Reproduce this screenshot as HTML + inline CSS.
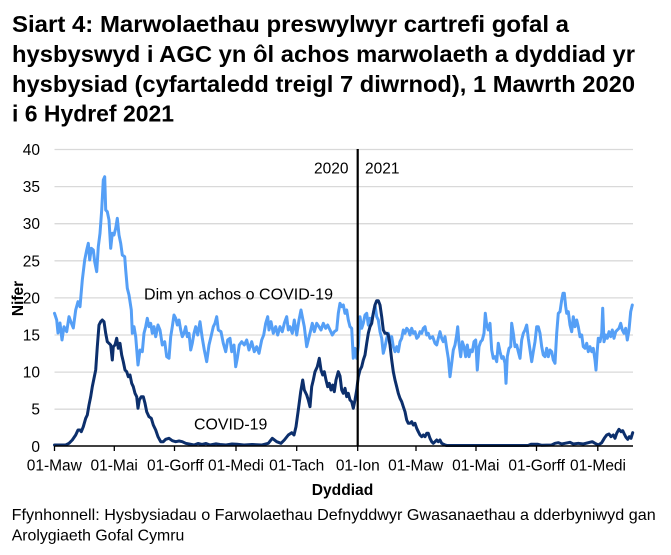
<!DOCTYPE html>
<html>
<head>
<meta charset="utf-8">
<style>
html,body{margin:0;padding:0;background:#fff;}
svg{display:block;}
text{font-family:"Liberation Sans",Arial,sans-serif;fill:#000;}
</style>
</head>
<body>
<svg width="671" height="555" viewBox="0 0 671 555" xmlns="http://www.w3.org/2000/svg">
<rect width="671" height="555" fill="#fff"/>
<!-- Title -->
<g font-weight="bold" font-size="23">
<text x="12" y="32" textLength="557" lengthAdjust="spacingAndGlyphs">Siart 4: Marwolaethau preswylwyr cartrefi gofal a</text>
<text x="12" y="62" textLength="623" lengthAdjust="spacingAndGlyphs">hysbyswyd i AGC yn ôl achos marwolaeth a dyddiad yr</text>
<text x="12" y="92" textLength="623" lengthAdjust="spacingAndGlyphs">hysbysiad (cyfartaledd treigl 7 diwrnod), 1 Mawrth 2020</text>
<text x="12" y="121.5" textLength="162" lengthAdjust="spacingAndGlyphs">i 6 Hydref 2021</text>
</g>
<!-- gridlines -->
<g stroke="#d9d9d9" stroke-width="1.3">
<line x1="54.5" y1="149.5" x2="633" y2="149.5"/>
<line x1="54.5" y1="186.6" x2="633" y2="186.6"/>
<line x1="54.5" y1="223.7" x2="633" y2="223.7"/>
<line x1="54.5" y1="260.8" x2="633" y2="260.8"/>
<line x1="54.5" y1="297.9" x2="633" y2="297.9"/>
<line x1="54.5" y1="335" x2="633" y2="335"/>
<line x1="54.5" y1="372.1" x2="633" y2="372.1"/>
<line x1="54.5" y1="409.2" x2="633" y2="409.2"/>
</g>
<!-- y labels -->
<g font-size="15.5" text-anchor="end">
<text x="40" y="155">40</text>
<text x="40" y="192.1">35</text>
<text x="40" y="229.2">30</text>
<text x="40" y="266.3">25</text>
<text x="40" y="303.4">20</text>
<text x="40" y="340.5">15</text>
<text x="40" y="377.6">10</text>
<text x="40" y="414.7">5</text>
<text x="40" y="451.8">0</text>
</g>
<!-- Nifer -->
<text transform="translate(23,298.5) rotate(-90)" text-anchor="middle" font-weight="bold" font-size="15.5">Nifer</text>
<!-- light series -->
<polyline fill="none" stroke="#559ff6" stroke-width="3" stroke-linejoin="round" stroke-linecap="round" points="54.5,313.3 56.7,320 58,333 60,323 62,340 64,326.7 66.7,331.7 69,316.7 71.3,323 73.3,328 75.7,310 78,301.7 80,306.7 82.3,280 84.7,260 86.7,250 88.3,243.3 89.7,260 91.3,248.3 93.3,250 94.7,261.7 96.7,271.7 98.3,246.7 100,233.3 101.7,210 103.3,180 104.7,176.7 105.7,210 107.3,211.7 109,220 110.7,248.3 112.3,233.3 114,235 115.7,228.3 117.3,218.3 119,235 120.7,243.3 122.3,255 124.7,256.7 125.7,270 127.3,288.3 129,295 131.3,310 132.3,333.3 134,326.7 135.7,336.7 138,365 140,350 142.3,351.7 144,333.3 145.7,326.7 147.3,318.3 149,326.7 150.7,323.3 152.3,333.3 154,326.7 155.7,336.7 158,325 160,330 162.3,345 164.7,341.7 166.7,356.7 169,358.3 170.7,336.7 172.3,326.7 174,315 175.7,318.3 177.3,325 179,320 180.7,330 182.3,336.7 184,333.3 185.7,326.7 187.3,336.7 189,333.3 190.7,350 192.3,343.3 194,333.3 195.7,326.7 197.7,335 200,321.7 202.3,338.3 204.3,350 206.7,361.7 209,345 211,336.7 213.3,326.7 215,323.3 216.7,316.7 218.3,330 221,331.7 223.3,343.3 225.7,351.7 227.7,340 230,338.3 231.7,351.7 234,345 235.7,366.7 237.3,358.3 239.3,345 241.7,341.7 244.3,345 246.7,340 249,350 251.7,341.7 254.3,351.7 256.7,346.7 259,353.3 261.7,340 263.7,335 265.7,323.3 267.7,316.7 269,330 271,321.7 273.3,333.3 275.7,326.7 277.7,335 280,326.7 282.3,331.7 284.3,323.3 286.7,316.7 288.3,330 290,326.7 292.3,333.3 294.3,320 296.7,335 299,320 301,310 302.3,316.7 304.3,326.7 306.7,346.7 308.3,340 310,333.3 312.3,323.3 314.3,331.7 316.7,323.3 319,326.7 321,330 323.3,323.3 325.7,328.3 327.7,325 330,330 332.3,335 334.3,331.7 336.7,330 338.3,313.3 340,303.3 341.7,306.7 343.3,305 345,313.3 346.7,310 348.3,320 350,326.7 351.7,328.3 353.3,358.3 355,348.3 356.7,358.3 358.3,346.7 360,316.7 361.7,328.3 363.3,323.3 365,315 366.7,313.3 368.3,325 370,318.3 371.7,320 373.3,313.3 375,305 376.7,316.7 378.3,320 380,331.7 381.7,338.3 383.3,353.3 385,346.7 386.7,338.3 388.3,333.3 390,340 391.7,336.7 393.3,346.7 395,351.7 396.7,346.7 398.3,351.7 400,341.7 401.7,338.3 403.3,330 405,333.3 406.7,328.3 408.3,330 410,335 411.7,328.3 413.3,333.3 415,331.7 416.7,338.3 418.3,336.7 420,331.7 421.7,333.3 423.3,328.3 425,326.7 426.7,335 428.3,333.3 430,338.3 432.7,336.7 435,343.3 436.7,345 438.3,338.3 440,331.7 441.7,338.3 443.3,341.7 445,336.7 446.7,348.3 448.3,358.3 450,376.7 451.7,363.3 453.3,350 455,345 456.7,335 457.7,326.7 459,343.3 460.7,356.7 462.3,341.7 464,346.7 465.7,356.7 467.3,345 469,356.7 470.7,350 472.3,351.7 474,341.7 475.7,340 477.3,370 479,346.7 480.7,341.7 482.3,340 484,333.3 485.3,313.3 486.7,325 488.3,330 490,323.3 491.7,350 493.3,358.3 495,356.7 496.7,361.7 498.3,343.3 500,351.7 501.7,358.3 503.3,356.7 505,363.3 506,383.3 507.3,356.7 509,348.3 510.7,346.7 511.7,323.3 513.3,333.3 515,346.7 516.7,345 518.3,351.7 520,358.3 521.7,340 523.3,333.3 525,330 526.7,325 528.3,338.3 530,350 531.7,361.7 533.3,351.7 535,341.7 536.7,326.7 538.3,326.7 540,333.3 541.7,346.7 543.3,355 545,356.7 546.7,348.3 548.3,356.7 550,350 551.7,351.7 553.3,360 555,363.3 556.7,333.3 558.3,313.3 560,311.7 561.7,300 563,293.3 564.3,293.3 565.7,306.7 566.7,313.3 568.3,311.7 570,325 571.7,331.7 573.3,316.7 575,326.7 576.7,320 578.3,326.7 580,336.7 581.7,335 583.3,346.7 585,348.3 586.7,343.3 588.3,351.7 590,346.7 591.7,351.7 593.3,348.3 595,360 596,370 597.3,350 598.3,338.3 600,341.7 601.7,333.3 602.7,308.3 604,341.7 605.7,335 607.3,338.3 609,331.7 610.7,336.7 612.3,330 614,338.3 615.7,331.7 617.3,330 619,328.3 620.7,323.3 622.3,330 624,333.3 625.7,328.3 627.3,340 629,330 630.7,311.7 632.3,305"/>
<!-- dark series -->
<polyline fill="none" stroke="#0c2f6c" stroke-width="3" stroke-linejoin="round" stroke-linecap="round" points="54.5,445 65.7,445 69,443.3 72.3,440 75.7,435 78,430 80,430 81.3,431.7 83.3,426.7 85.7,418.3 87.3,415 89,405 90.7,396.7 92.3,386.7 94,378.3 95.7,370 97.3,346.7 99,325 100.7,321.7 102.3,320 104,321.7 105.7,333.3 107.3,341.7 109,343.3 110.7,345 112.3,360 113.3,346.7 115,345 116.7,338.3 118.3,348.3 120,343.3 121.7,355 123.3,361.7 125,370 126.7,371.7 128.3,376.7 130,375 131.7,383.3 133.3,386.7 135,393.3 136.7,396.7 138,408.3 139.3,400 141.3,396.7 143.3,396.7 145,403.3 146.7,411.7 149,416.7 151.3,418.3 153.3,425 155.7,430 158,436.7 160.7,441.7 163.3,441.7 165.7,439.3 169,438.3 172.3,440.7 175.7,441.7 179,441 182.3,441.7 185.7,443.3 189,444 194,445 198,443.5 202,444.5 206,443.5 210,445 216,443.8 220,444.5 226,445 232,444 237,444.3 244,445 252,444.5 262,445 268.3,443.3 272.3,438.3 276.7,441.7 281,443.3 284.3,440 288.3,435 291.7,432.7 294,435 296,426.7 298.3,410 300.7,391.7 302.7,380 304.3,390 306.7,395 308.3,400 310,406.7 311.7,386.7 313.3,380 315,371.7 317.3,366.7 319.3,358.3 321,370 322.7,375 324.3,371.7 326,380 327.7,386.7 329.3,383.3 331,390 332.7,385 334.3,391.7 336,380 338.3,371.7 340,376 341.7,390 343.3,393.3 345,388.3 346.7,396.7 348.3,393.3 350,400 351.7,401.7 353.3,408.3 355,400 356.7,390 358.3,376.7 360,370 361.7,366.7 363.3,360 365,355 366.7,343.3 368.3,333.3 370,326.7 371.7,323.3 373.3,313.3 375,305 376.7,300.7 378.3,300.7 380,305 381.7,316.7 383.3,330 385,333.3 386.7,333.3 388.3,335 390,345 391.7,360 393.3,371.7 395,380 396.7,386.7 398.3,393.3 400,398.3 401.7,401.7 403.3,406.7 405,411.7 406.7,420 408.3,423.3 410,423.3 411.7,421.7 413.3,425 415,423.3 416.7,428.3 418.3,431.7 420,435 421.7,436.7 423.3,435 425,436.7 426.7,433.3 428.3,433.3 430,438.3 431.7,441.7 433.3,443.3 435,441.7 436.7,440 438.3,441.7 440,440 441.7,443.3 445,445 446.7,445.5 528,445.5 531,444.3 538,444.3 541.7,445.3 551.7,445 555,443.3 558.3,442.7 561.7,444 565,443.3 570,442.3 573.3,444 578.3,443.3 583.3,444 588.3,442.7 592.3,441.7 595,443.3 598.3,445 601.7,442.7 604.3,438.3 606.7,435 609,434 611,436.7 613.3,435 615,438.3 616.7,433.3 619,429.3 621,431.7 622.7,430.7 624.3,434 626,437.3 627.7,439.3 629.3,436.7 631,438.3 632.7,432.7"/>
<!-- x axis -->
<line x1="54.5" y1="446" x2="633" y2="446" stroke="#000" stroke-width="1.4"/>
<g stroke="#000" stroke-width="1.3">
<line x1="54.5" y1="446" x2="54.5" y2="451"/>
<line x1="114.3" y1="446" x2="114.3" y2="451"/>
<line x1="174.5" y1="446" x2="174.5" y2="451"/>
<line x1="236" y1="446" x2="236" y2="451"/>
<line x1="296.7" y1="446" x2="296.7" y2="451"/>
<line x1="357.7" y1="446" x2="357.7" y2="451"/>
<line x1="416" y1="446" x2="416" y2="451"/>
<line x1="476" y1="446" x2="476" y2="451"/>
<line x1="536.5" y1="446" x2="536.5" y2="451"/>
<line x1="597.8" y1="446" x2="597.8" y2="451"/>
</g>
<!-- vertical year line -->
<line x1="357.7" y1="149" x2="357.7" y2="446" stroke="#000" stroke-width="2.2"/>
<g font-size="15.5">
<text x="348.5" y="173.5" text-anchor="end">2020</text>
<text x="365" y="173.5">2021</text>
</g>
<!-- series labels -->
<text x="144" y="299.3" font-size="16" textLength="189" lengthAdjust="spacingAndGlyphs">Dim yn achos o COVID-19</text>
<text x="194" y="429.3" font-size="16" textLength="73.3" lengthAdjust="spacingAndGlyphs">COVID-19</text>
<!-- x labels -->
<g font-size="15.5" text-anchor="middle">
<text x="54.3" y="470.5">01-Maw</text>
<text x="114.2" y="470.5">01-Mai</text>
<text x="175.3" y="470.5">01-Gorff</text>
<text x="236" y="470.5">01-Medi</text>
<text x="296.7" y="470.5">01-Tach</text>
<text x="357.8" y="470.5">01-Ion</text>
<text x="415.7" y="470.5">01-Maw</text>
<text x="475.8" y="470.5">01-Mai</text>
<text x="536.7" y="470.5">01-Gorff</text>
<text x="598" y="470.5">01-Medi</text>
</g>
<text x="342.5" y="495" text-anchor="middle" font-weight="bold" font-size="15.6">Dyddiad</text>
<!-- source -->
<g font-size="16">
<text x="11.7" y="520" textLength="644" lengthAdjust="spacingAndGlyphs">Ffynhonnell: Hysbysiadau o Farwolaethau Defnyddwyr Gwasanaethau a dderbyniwyd gan</text>
<text x="11.7" y="540.7" textLength="172.6" lengthAdjust="spacingAndGlyphs">Arolygiaeth Gofal Cymru</text>
</g>
</svg>
</body>
</html>
